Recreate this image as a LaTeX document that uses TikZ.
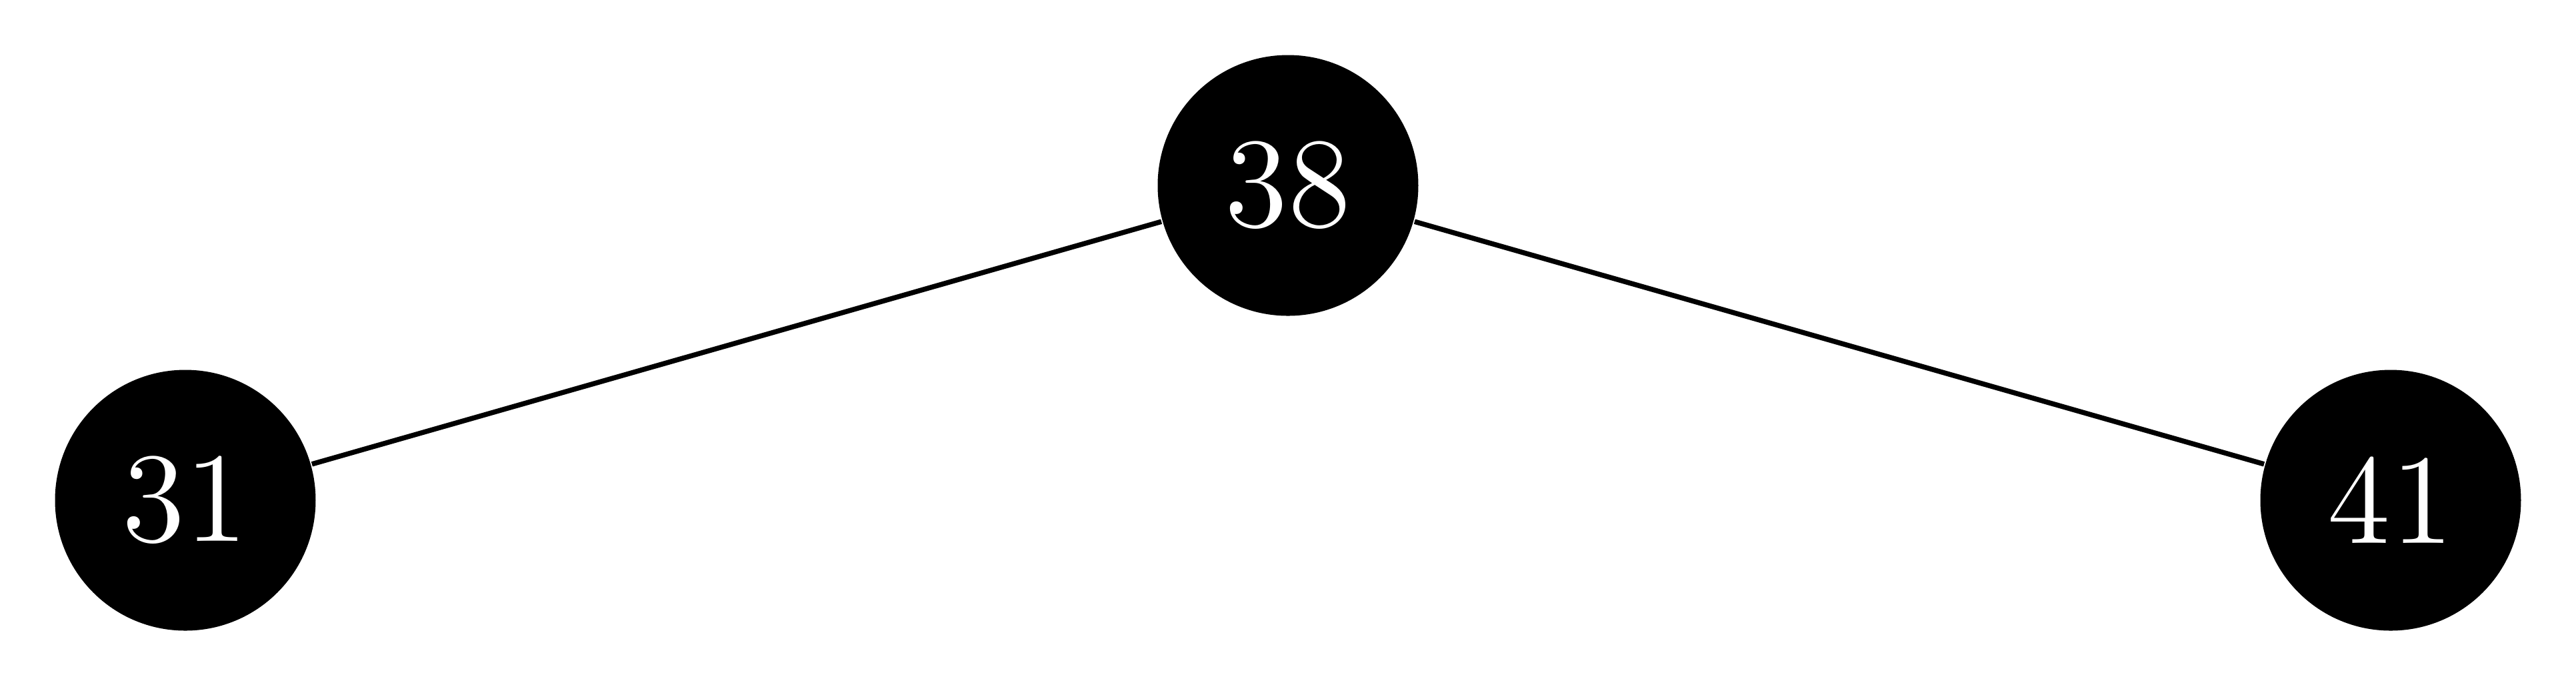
\documentclass[tikz,border=0pt]{standalone}
\begin{document}
\begin{tikzpicture}[x=1pt,y=1pt,
  treenode/.style={circle,fill=black,text=white,inner sep=0pt,minimum size=39.1pt,font=\fontsize{12}{14}\selectfont},
  edge/.style={draw=black,line width=0.75pt}]
\useasboundingbox (0,0) rectangle (386.4,102.9);
\node[treenode] (n38) at (193.2,75.1) {\scalebox{1.6}{38}};
\node[treenode] (n31) at (27.8,27.9) {\scalebox{1.6}{31}};
\node[treenode] (n41) at (358.6,27.9) {\scalebox{1.6}{41}};
\draw[edge] (n38) -- (n31);
\draw[edge] (n38) -- (n41);
\end{tikzpicture}
\end{document}
